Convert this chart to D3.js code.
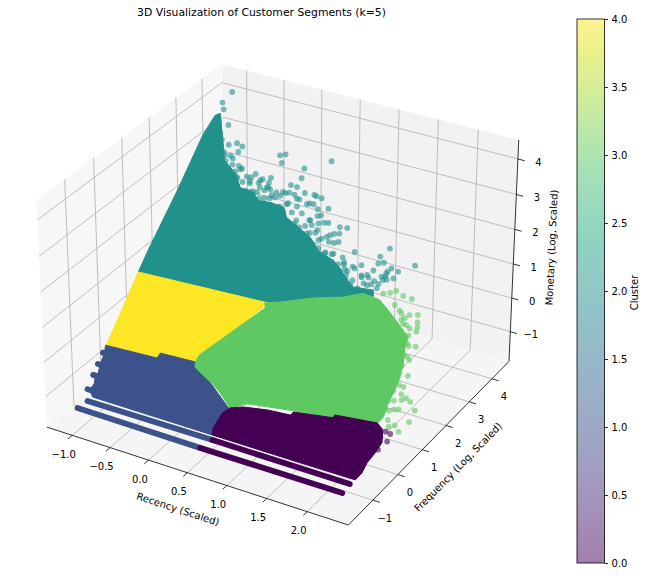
<!DOCTYPE html>
<html>
<head>
<meta charset="utf-8">
<script src="https://cdn.jsdelivr.net/npm/d3@7"></script>
<style>
  body { margin: 0; background: #fff; }
  text { font-family: "DejaVu Sans", sans-serif; fill: #000; }
</style>
</head>
<body>
<svg id="chart" width="647" height="576"></svg>
<script>
// axis ranges and tick labels
var xLim = [-1.336, 2.502], yLim = [-1.951, 4.771], zLim = [-1.894, 4.532];
var xTicks = [-1, -0.5, 0, 0.5, 1, 1.5, 2];
var yTicks = [-1, 0, 1, 2, 3, 4];
var zTicks = [-1, 0, 1, 2, 3, 4];
var colorbarTicks = [0, 0.5, 1, 1.5, 2, 2.5, 3, 3.5, 4];

// [recency, frequency, monetary].
// "body" = outline of the saturated mass of a cluster, "points" = the separate dots
var cluster2Body = [[-1.15,0.96,0.84],[-1.15,1.34,1.24],[-1.12,2.39,2.36],[-1.11,3.36,3.40],[-1.07,3.73,3.78],[-1.02,3.78,3.84],[-0.91,3.52,3.56],[-0.80,3.26,3.28],[-0.72,3.06,3.07],[-0.52,2.90,2.90],[-0.39,2.70,2.69],[-0.21,2.68,2.67],[-0.11,2.58,2.56],[0.04,2.60,2.58],[0.22,2.58,2.56],[0.30,2.44,2.41],[0.49,2.34,2.30],[0.68,2.23,2.19],[0.83,2.07,2.02],[1.05,1.98,1.93],[1.17,1.89,1.83],[1.27,1.78,1.71],[1.40,1.67,1.59],[1.64,1.71,1.64],[1.67,1.62,1.54],[1.35,1.43,1.34],[0.49,1.02,0.91]];
var cluster4Body = [[-1.15,0.96,0.84],[0.52,1.07,0.95],[-0.06,-0.20,-0.39],[-1.14,-0.29,-0.48]];
var cluster1Body = [[-1.15,-0.29,-0.49],[-0.48,-0.25,-0.44],[-0.47,-0.16,-0.35],[-0.02,-0.13,-0.32],[0.61,-0.68,-0.90],[0.53,-1.09,-1.33],[0.53,-1.12,-1.37],[-1.03,-1.12,-1.37],[-1.10,-1.03,-1.27],[-1.08,-0.92,-1.15],[-1.11,-0.79,-1.02],[-1.09,-0.74,-0.96],[-1.11,-0.61,-0.82],[-1.12,-0.42,-0.62]];
var cluster0Body = [[0.53,-1.12,-1.37],[0.51,-1.02,-1.26],[0.54,-0.76,-0.98],[0.60,-0.65,-0.87],[0.74,-0.58,-0.79],[1.03,-0.51,-0.72],[1.31,-0.48,-0.69],[1.33,-0.42,-0.63],[1.41,-0.41,-0.61],[1.79,-0.33,-0.53],[1.80,-0.28,-0.48],[2.30,-0.21,-0.40],[2.39,-0.28,-0.48],[2.44,-0.47,-0.68],[2.41,-0.65,-0.87],[2.37,-0.82,-1.05],[2.36,-0.99,-1.23],[2.32,-1.12,-1.36],[2.28,-1.12,-1.36],[1.64,-1.12,-1.37]];
var cluster3Body = [[-0.02,-0.13,-0.32],[-0.01,-0.01,-0.19],[0.51,0.98,0.86],[0.48,1.05,0.94],[0.68,1.15,1.04],[1.00,1.33,1.24],[1.34,1.48,1.39],[1.54,1.62,1.54],[1.76,1.59,1.51],[1.94,1.44,1.35],[2.12,1.28,1.18],[2.24,1.17,1.06],[2.26,0.99,0.88],[2.31,0.77,0.63],[2.34,0.55,0.41],[2.34,0.34,0.18],[2.33,0.12,-0.05],[2.34,-0.10,-0.28],[2.30,-0.23,-0.42],[1.79,-0.33,-0.53],[1.31,-0.41,-0.61],[0.78,-0.51,-0.72],[0.60,-0.65,-0.87],[0.42,-0.48,-0.68],[0.30,-0.39,-0.58],[0.13,-0.29,-0.49],[0.00,-0.21,-0.40]];

// rows of points at one frequency value
var cluster1Rows = [[[-1.15,-1.35,-1.62],[0.46,-1.36,-1.63]], [[-1.07,-1.20,-1.46],[0.56,-1.19,-1.45]], [[-1.13,-1.03,-1.27],[0.00,-1.03,-1.27]], [[-1.14,-0.79,-1.02],[0.00,-0.79,-1.02]], [[-1.14,-0.61,-0.82],[0.00,-0.61,-0.82]], [[-1.14,-0.42,-0.62],[-0.20,-0.42,-0.62]]];
var cluster0Rows = [[[0.46,-1.36,-1.63],[2.24,-1.36,-1.62]], [[0.56,-1.19,-1.45],[2.28,-1.20,-1.45]]];

var cluster2Points = [[-0.99,4.17,4.25],[-1.05,3.96,4.03],[-1.00,3.86,3.92],[-0.86,3.63,3.68],[-0.75,3.32,3.35],[-0.66,3.38,3.41],[-0.58,3.35,3.38],[-0.60,3.25,3.27],[-0.09,3.37,3.40],[-0.03,3.41,3.44],[-0.03,3.26,3.28],[0.54,3.49,3.53],[0.26,3.27,3.29],[0.28,3.10,3.12],[-0.28,2.98,2.98],[-0.08,2.98,2.99],[-0.17,2.92,2.93],[-0.20,2.85,2.85],[-0.08,2.90,2.90],[-0.08,2.82,2.81],[-0.03,2.80,2.79],[0.19,2.95,2.96],[0.27,2.95,2.95],[0.13,2.82,2.81],[0.21,2.83,2.83],[0.28,2.82,2.82],[0.39,2.89,2.89],[0.51,2.90,2.90],[0.61,2.88,2.88],[0.54,2.89,2.89],[0.74,2.75,2.74],[0.50,2.75,2.74],[0.47,2.73,2.72],[0.55,2.75,2.75],[0.62,2.70,2.68],[0.69,2.61,2.60],[0.65,2.59,2.57],[0.70,2.48,2.46],[0.81,2.53,2.51],[0.76,2.52,2.49],[0.58,2.49,2.47],[0.63,2.43,2.40],[0.96,2.52,2.49],[1.05,2.53,2.51],[0.99,2.41,2.39],[0.93,2.39,2.36],[0.89,2.35,2.32],[0.86,2.31,2.28],[1.02,2.28,2.25],[0.97,2.25,2.21],[0.71,2.33,2.29],[0.61,2.28,2.24],[0.78,2.23,2.19],[1.25,2.20,2.16],[1.63,2.40,2.37],[1.56,2.24,2.20],[1.57,2.13,2.08],[1.63,2.16,2.12],[1.99,2.25,2.21],[1.83,2.09,2.04],[1.74,2.11,2.06],[1.71,2.05,1.99],[1.71,1.96,1.90],[1.81,1.97,1.91],[1.55,2.00,1.95],[1.39,2.03,1.98],[1.30,1.97,1.92],[1.18,2.00,1.95],[1.14,2.07,2.02],[1.12,1.95,1.89],[1.00,2.07,2.02],[0.92,2.07,2.02],[1.13,1.85,1.79],[1.22,1.90,1.84],[1.26,1.83,1.76],[1.50,1.91,1.85],[1.45,1.85,1.79],[1.36,1.77,1.70],[1.50,1.77,1.70],[1.59,1.79,1.72],[1.67,1.82,1.76],[1.74,1.92,1.86],[1.70,1.90,1.84],[1.67,1.75,1.68],[-0.30,2.81,2.80],[-0.37,2.90,2.90],[-0.47,3.01,3.01],[-0.52,3.03,3.04],[-0.63,3.12,3.14],[-0.74,3.14,3.16],[-0.54,2.87,2.87],[-0.49,2.85,2.85],[-0.25,2.68,2.67],[-0.17,2.70,2.69],[0.01,2.66,2.65],[0.17,2.57,2.56],[0.25,2.66,2.65],[0.36,2.77,2.76]];
// tighter band of dots along the edge of the mass
var cluster2EdgePoints = [[-0.99,3.65,3.71],[-0.91,3.46,3.51],[-0.86,3.37,3.41],[-0.77,3.18,3.21],[-0.67,3.15,3.18],[-0.70,3.05,3.07],[-0.60,3.02,3.04],[-0.64,2.95,2.97],[-0.53,2.92,2.94],[-0.48,2.98,3.00],[-0.56,2.85,2.86],[-0.47,2.83,2.84],[-0.39,2.79,2.80],[-0.31,2.84,2.85],[-0.31,2.67,2.67],[-0.22,2.69,2.69],[-0.16,2.78,2.79],[-0.11,2.61,2.61],[-0.06,2.82,2.83],[0.02,2.71,2.71],[-0.05,2.63,2.63],[0.06,2.77,2.78],[0.12,2.74,2.74],[0.05,2.56,2.55],[0.15,2.56,2.55],[0.24,2.63,2.63],[0.24,2.50,2.49],[0.34,2.53,2.52],[0.37,2.64,2.64],[0.46,2.56,2.55],[0.43,2.43,2.41],[0.56,2.38,2.36],[0.50,2.33,2.31],[0.65,2.29,2.27],[0.63,2.21,2.18],[0.72,2.37,2.35],[0.81,2.26,2.23],[0.91,2.24,2.21],[0.82,2.10,2.06],[0.92,2.05,2.01],[1.02,2.08,2.04],[1.04,1.95,1.90],[1.16,1.85,1.80],[1.26,1.88,1.83],[1.33,1.95,1.90],[1.36,1.69,1.63],[1.44,1.87,1.82],[1.55,1.75,1.69],[1.61,1.84,1.79],[1.67,1.94,1.89],[1.28,1.75,1.69],[1.17,1.75,1.69],[1.46,1.66,1.60],[0.59,2.49,2.48],[0.33,2.76,2.77],[0.17,2.80,2.81],[0.07,2.69,2.69],[-0.09,2.75,2.76],[-0.19,2.89,2.90],[-0.31,2.90,2.92],[0.43,2.37,2.35],[0.74,2.13,2.10],[1.19,1.96,1.92],[1.53,1.87,1.82],[1.71,2.00,1.96]];
var cluster3Points = [[1.84,1.74,1.67],[1.90,1.79,1.73],[2.00,1.75,1.68],[2.11,1.74,1.67],[1.77,1.70,1.63],[1.95,1.58,1.50],[1.86,1.46,1.38],[2.06,1.49,1.40],[2.25,1.53,1.45],[2.16,1.49,1.41],[2.12,1.43,1.34],[2.28,1.42,1.33],[2.30,1.35,1.25],[2.31,1.28,1.18],[2.17,1.33,1.24],[2.22,1.30,1.20],[2.09,1.39,1.30],[2.29,1.04,0.92],[2.37,1.06,0.94],[2.32,0.87,0.75],[2.36,0.84,0.71],[2.42,0.60,0.46],[2.42,0.42,0.27],[2.36,0.43,0.28],[2.43,0.31,0.15],[2.50,0.27,0.11],[2.56,0.24,0.07],[2.38,0.18,0.02],[2.46,0.23,0.06],[2.65,0.13,-0.04],[2.47,0.08,-0.10],[2.42,0.06,-0.12],[2.37,0.02,-0.16],[2.64,-0.06,-0.24],[2.50,-0.17,-0.36],[2.57,-0.24,-0.44],[2.44,-0.21,-0.41],[2.40,-0.12,-0.31],[2.03,1.51,1.44],[2.13,1.33,1.25],[2.24,1.18,1.09],[2.22,1.13,1.03],[2.26,1.06,0.96],[2.28,0.88,0.77],[2.31,0.71,0.59],[2.31,0.61,0.48],[2.31,0.46,0.32],[2.33,0.31,0.16],[2.32,0.15,-0.01],[2.32,0.03,-0.14]];
var cluster0Points = [[2.49,-0.31,-0.51],[2.49,-0.43,-0.64],[2.43,-0.59,-0.80],[2.39,-0.59,-0.81],[2.43,-0.30,-0.49]];

var clusterColor = d3.scaleSequential(d3.interpolateViridis).domain([0, 4]);

// box scales, same proportions as a default mplot3d axes (4:4:3)
var boxX = d3.scaleLinear().domain(xLim).range([-0.5714, 0.5714]),
    boxY = d3.scaleLinear().domain(yLim).range([-0.5714, 0.5714]),
    boxZ = d3.scaleLinear().domain(zLim).range([-0.4286, 0.4286]);

// camera: elev 30, azim -60, distance 10
var camU = [0.866, 0.5, 0],
    camV = [-0.25, 0.433, 0.866],
    camW = [0.433, -0.75, 0.5],
    camDist = 10;

function dot(a, b) { return a[0] * b[0] + a[1] * b[1] + a[2] * b[2]; }

function camera(d) {
    var p = [boxX(d[0]), boxY(d[1]), boxZ(d[2])];
    var depth = camDist - dot(p, camW);
    return [dot(p, camU) / depth, dot(p, camV) / depth];
}

var screenX = d3.scaleLinear()
    .domain([camera([xLim[0], yLim[0], zLim[0]])[0], camera([xLim[1], yLim[1], zLim[0]])[0]])
    .range([47, 509]);
var screenY = d3.scaleLinear()
    .domain([camera([xLim[1], yLim[0], zLim[0]])[1], camera([xLim[0], yLim[1], zLim[1]])[1]])
    .range([525, 64.3]);

function px(d) { return screenX(camera(d)[0]); }
function py(d) { return screenY(camera(d)[1]); }

var path3d = d3.line().x(px).y(py);

var svg = d3.select("#chart");
var pointRadius = 2.9;

function drawPanes() {
    var panes = [
        { fill: "#f7f7f7", corners: [[xLim[0], yLim[0], zLim[0]], [xLim[0], yLim[1], zLim[0]], [xLim[0], yLim[1], zLim[1]], [xLim[0], yLim[0], zLim[1]]] },
        { fill: "#f2f2f2", corners: [[xLim[0], yLim[1], zLim[0]], [xLim[1], yLim[1], zLim[0]], [xLim[1], yLim[1], zLim[1]], [xLim[0], yLim[1], zLim[1]]] },
        { fill: "#f5f5f5", corners: [[xLim[0], yLim[0], zLim[0]], [xLim[1], yLim[0], zLim[0]], [xLim[1], yLim[1], zLim[0]], [xLim[0], yLim[1], zLim[0]]] }
    ];
    svg.append("g").selectAll("path").data(panes).enter().append("path")
        .attr("d", function(p) { return path3d(p.corners) + "Z"; })
        .attr("fill", function(p) { return p.fill; });
}

function drawGrid() {
    var grid = [];
    xTicks.forEach(function(t) {
        grid.push([[t, yLim[0], zLim[0]], [t, yLim[1], zLim[0]], [t, yLim[1], zLim[1]]]);
    });
    yTicks.forEach(function(t) {
        grid.push([[xLim[1], t, zLim[0]], [xLim[0], t, zLim[0]], [xLim[0], t, zLim[1]]]);
    });
    zTicks.forEach(function(t) {
        grid.push([[xLim[1], yLim[1], t], [xLim[0], yLim[1], t], [xLim[0], yLim[0], t]]);
    });
    svg.append("g").selectAll("path").data(grid).enter().append("path")
        .attr("d", path3d)
        .attr("fill", "none")
        .attr("stroke", "#b0b0b0")
        .attr("stroke-width", 0.8);
}

function drawAxes() {
    var edges = [
        [[xLim[0], yLim[0], zLim[0]], [xLim[1], yLim[0], zLim[0]]],
        [[xLim[1], yLim[0], zLim[0]], [xLim[1], yLim[1], zLim[0]]],
        [[xLim[1], yLim[1], zLim[0]], [xLim[1], yLim[1], zLim[1]]]
    ];
    var g = svg.append("g");
    g.selectAll("path").data(edges).enter().append("path")
        .attr("d", path3d)
        .attr("fill", "none")
        .attr("stroke", "#000")
        .attr("stroke-width", 0.8);

    // tick mark direction and label offset differ per axis
    var tickOutX = 0.022 * (yLim[1] - yLim[0]),
        tickOutY = 0.022 * (xLim[1] - xLim[0]),
        tickOutZ = 0.022 * (xLim[1] - xLim[0]);
    var ticks = [];
    xTicks.forEach(function(t) {
        ticks.push({ from: [t, yLim[0], zLim[0]], to: [t, yLim[0] - tickOutX, zLim[0]], label: d3.format(".1f")(t), dx: -8.5, dy: 19 });
    });
    yTicks.forEach(function(t) {
        ticks.push({ from: [xLim[1], t, zLim[0]], to: [xLim[1] + tickOutY, t, zLim[0]], label: d3.format("d")(t), dx: 12, dy: 18 });
    });
    zTicks.forEach(function(t) {
        ticks.push({ from: [xLim[1], yLim[1], t], to: [xLim[1] + tickOutZ, yLim[1], t], label: d3.format("d")(t), dx: 20.5, dy: 3 });
    });
    g.selectAll("line").data(ticks).enter().append("line")
        .attr("x1", function(d) { return px(d.from); })
        .attr("y1", function(d) { return py(d.from); })
        .attr("x2", function(d) { return px(d.to); })
        .attr("y2", function(d) { return py(d.to); })
        .attr("stroke", "#000")
        .attr("stroke-width", 0.8);
    g.selectAll("text").data(ticks).enter().append("text")
        .attr("x", function(d) { return px(d.from) + d.dx; })
        .attr("y", function(d) { return py(d.from) + d.dy; })
        .attr("dy", "0.36em")
        .attr("text-anchor", "middle")
        .attr("font-size", 10)
        .text(function(d) { return d.label; });
}

function drawBody(points, cluster) {
    svg.append("path")
        .datum(points)
        .attr("d", function(d) { return path3d(d) + "Z"; })
        .attr("fill", clusterColor(cluster))
        .attr("stroke", clusterColor(cluster))
        .attr("stroke-width", 1)
        .attr("stroke-linejoin", "round");
}

function drawRows(rows, cluster) {
    svg.append("g").selectAll("path").data(rows).enter().append("path")
        .attr("d", path3d)
        .attr("fill", "none")
        .attr("stroke", clusterColor(cluster))
        .attr("stroke-width", pointRadius * 2)
        .attr("stroke-linecap", "round");
}

function drawPoints(points, cluster) {
    svg.append("g").selectAll("circle").data(points).enter().append("circle")
        .attr("cx", px)
        .attr("cy", py)
        .attr("r", pointRadius)
        .attr("fill", clusterColor(cluster))
        .attr("fill-opacity", 0.6);
}

function drawColorbar() {
    var barLeft = 577, barWidth = 27.5;
    var barScale = d3.scaleLinear().domain([0, 4]).range([563, 19]);
    var stops = d3.range(0, 1.001, 0.05);
    var grad = svg.append("defs").append("linearGradient")
        .attr("id", "viridisBar")
        .attr("x1", 0).attr("y1", 1).attr("x2", 0).attr("y2", 0);
    grad.selectAll("stop").data(stops).enter().append("stop")
        .attr("offset", function(d) { return d; })
        .attr("stop-color", function(d) { return d3.interpolateViridis(d); })
        .attr("stop-opacity", 0.5);
    svg.append("rect")
        .attr("x", barLeft).attr("y", barScale(4))
        .attr("width", barWidth).attr("height", barScale(0) - barScale(4))
        .attr("fill", "url(#viridisBar)")
        .attr("stroke", "#000")
        .attr("stroke-width", 0.8);

    var axis = d3.axisRight(barScale).tickValues(colorbarTicks).tickFormat(d3.format(".1f")).tickSize(3.5).tickPadding(3.5);
    var g = svg.append("g").attr("transform", "translate(" + (barLeft + barWidth) + ",0)").call(axis);
    g.select(".domain").remove();
    g.selectAll("line").attr("stroke", "#000").attr("stroke-width", 0.8);
    g.selectAll("text").attr("font-size", 10).attr("font-family", null);

    svg.append("text")
        .attr("transform", "translate(634,292.5) rotate(-90)")
        .attr("text-anchor", "middle")
        .attr("dy", "0.36em")
        .attr("font-size", 10)
        .text("Cluster");
}

function drawLabels() {
    var labels = [
        { text: "3D Visualization of Customer Segments (k=5)", x: 261.5, y: 12.5, rot: 0, size: 10.83 },
        { text: "Recency (Scaled)", x: 178, y: 509, rot: 18.1, size: 10 },
        { text: "Frequency (Log, Scaled)", x: 458, y: 467, rot: -45.5, size: 10 },
        { text: "Monetary (Log, Scaled)", x: 551.5, y: 247.5, rot: -87.4, size: 10 }
    ];
    svg.append("g").selectAll("text").data(labels).enter().append("text")
        .attr("transform", function(d) { return "translate(" + d.x + "," + d.y + ") rotate(" + d.rot + ")"; })
        .attr("text-anchor", "middle")
        .attr("dy", "0.36em")
        .attr("font-size", function(d) { return d.size; })
        .text(function(d) { return d.text; });
}

drawPanes();
drawGrid();
drawAxes();

drawBody(cluster2Body, 2);
drawPoints(cluster2EdgePoints, 2);
drawPoints(cluster2Points, 2);
drawBody(cluster4Body, 4);
drawBody(cluster1Body, 1);
drawRows(cluster1Rows, 1);
drawBody(cluster3Body, 3);
drawPoints(cluster3Points, 3);
drawBody(cluster0Body, 0);
drawRows(cluster0Rows, 0);
drawPoints(cluster0Points, 0);

drawColorbar();
drawLabels();
</script>
</body>
</html>
